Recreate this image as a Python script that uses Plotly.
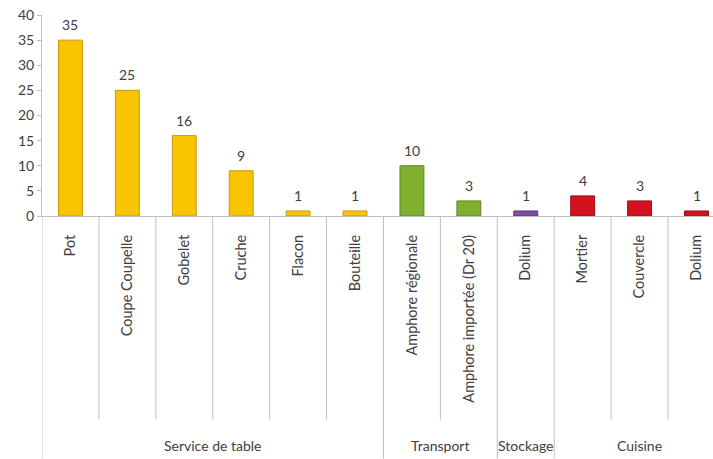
import plotly.graph_objects as go

# Vessel categories, counts and functional groups
categories = ["Pot", "Coupe Coupelle", "Gobelet", "Cruche", "Flacon", "Bouteille",
              "Amphore régionale", "Amphore importée (Dr 20)", "Dolium",
              "Mortier", "Couvercle", "Dolium"]
counts = [35, 25, 16, 9, 1, 1, 10, 3, 1, 4, 3, 1]
groups = ["Service de table"] * 6 + ["Transport"] * 2 + ["Stockage"] + ["Cuisine"] * 3

group_fill = {"Service de table": "#F8C400", "Transport": "#80B030",
              "Stockage": "#7B4FA2", "Cuisine": "#D3121D"}
group_edge = {"Service de table": "#C99A10", "Transport": "#5A8A1C",
              "Stockage": "#5B3580", "Cuisine": "#9E0C14"}

xs = list(range(len(categories)))
text_color = "#404040"
line_color = "#BFBFBF"
font_family = "Lato, Open Sans, sans-serif"

fig = go.Figure(go.Bar(
    x=xs, y=counts, width=0.42,
    marker=dict(color=[group_fill[g] for g in groups],
                line=dict(color=[group_edge[g] for g in groups], width=1)),
    cliponaxis=False,
))

# Value labels above each bar
for x, v in zip(xs, counts):
    fig.add_annotation(x=x, y=v, xref="x", yref="y", text=str(v), showarrow=False,
                       yanchor="bottom", yshift=5,
                       font=dict(size=14, color=text_color, family=font_family))

# Divider lines between categories: short inside a group, long between groups
plot_h = 201.0
short_end = -(420 - 216.5) / plot_h
long_end = -(459 - 216.5) / plot_h
for i in range(len(categories) + 1):
    pos = i - 0.5
    if i == 0 or i == len(categories) or groups[i] != groups[i - 1]:
        end = long_end
    else:
        end = short_end
    fig.add_shape(type="line", xref="x", yref="paper", x0=pos, x1=pos,
                  y0=0, y1=end, line=dict(color=line_color, width=1))

# Group labels centred under their categories
label_y = -(446 - 216.5) / plot_h
seen = []
for g in groups:
    if g not in seen:
        seen.append(g)
for g in seen:
    idx = [i for i, gg in enumerate(groups) if gg == g]
    centre = (idx[0] + idx[-1]) / 2
    fig.add_annotation(x=centre, y=label_y, xref="x", yref="paper", text=g,
                       showarrow=False, yanchor="middle",
                       font=dict(size=14, color=text_color, family=font_family))

fig.update_layout(
    width=713, height=459,
    margin=dict(l=42, r=0, t=15, b=243),
    plot_bgcolor="white", paper_bgcolor="white",
    showlegend=False,
    font=dict(family=font_family, color=text_color, size=14),
    xaxis=dict(range=[-0.5, 11.29], tickvals=xs, ticktext=categories, tickangle=-90,
               showgrid=False, showline=True, linecolor=line_color, linewidth=1,
               ticks="", ticklabelstandoff=12, zeroline=False,
               tickfont=dict(size=14.5, color=text_color)),
    yaxis=dict(range=[0, 40], dtick=5, showgrid=False, showline=True,
               linecolor=line_color, linewidth=1, ticks="outside", ticklen=4,
               tickcolor=line_color, zeroline=False,
               tickfont=dict(size=14, color=text_color)),
)

fig.write_html("out.html")
